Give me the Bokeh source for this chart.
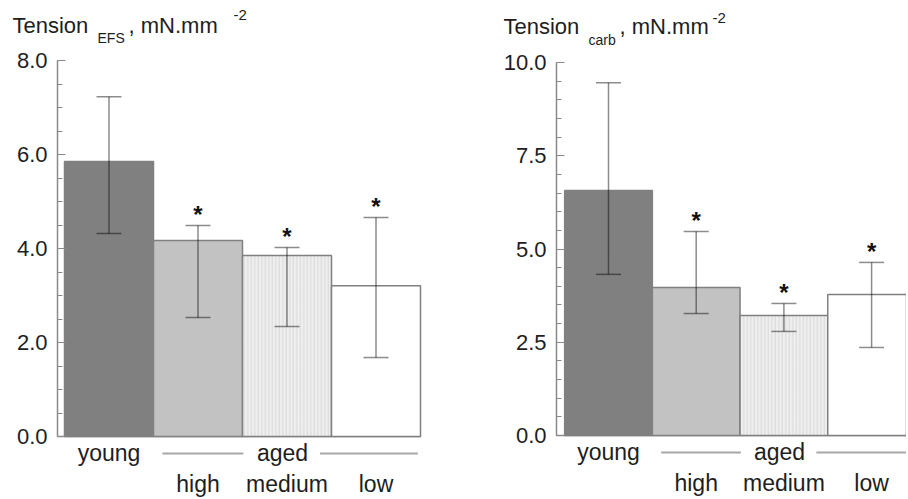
from bokeh.plotting import figure
from bokeh.layouts import row
from bokeh.models import Range1d, SingleIntervalTicker, PrintfTickFormatter, ColumnDataSource
from bokeh.core.properties import value
from bokeh.embed import file_html
from bokeh.resources import INLINE

# ---------------- data ----------------
groups = ["young", "high", "medium", "low"]
group_top = "aged"
efs_mean = [5.85, 4.17, 3.85, 3.21]
efs_upper = [7.23, 4.49, 4.02, 4.66]
efs_lower = [4.32, 2.53, 2.34, 1.68]
carb_mean = [6.57, 3.97, 3.22, 3.78]
carb_upper = [9.46, 5.47, 3.54, 4.64]
carb_lower = [4.32, 3.27, 2.79, 2.36]
significant = [False, True, True, True]
efs_ticks = dict(interval=2.0, top=8.0, minor=4)
carb_ticks = dict(interval=2.5, top=10.0, minor=5)

# ---------------- styles ----------------
bar_colors = ["#808080", "#c2c2c2", "#efefef", "#ffffff"]
hatches = [" ", " ", "|", " "]
FONT = "Liberation Sans"
TXT = "#1e1e1e"
AX = "#8a8a8a"
H = 497
SHIFT = 8  # text baseline correction (px)


def make_panel(fig_left, width, axis_px, y0, uy, c1, ux, mean, upper, lower, ticks, title_parts):
    # page-pixel layout -> data ranges (frame covers whole figure)
    xs = 1 - (c1 - fig_left) / ux
    xe = xs + width / ux
    ys = -(H - y0) / uy
    ye = y0 / uy

    def px2x(px):
        return xs + (px - fig_left) / ux

    def px2y(py):
        return (y0 - py) / uy

    p = figure(width=width, height=H, output_backend="svg", toolbar_location=None,
               x_range=Range1d(xs, xe), y_range=Range1d(ys, ye),
               x_axis_location=None, min_border_left=0,
               min_border_right=0, min_border_top=0, min_border_bottom=0)
    p.outline_line_color = None
    p.grid.visible = False
    p.background_fill_color = "white"
    p.border_fill_color = "white"

    axis_x = px2x(axis_px)
    n = len(groups)
    xpos = list(range(1, n + 1))
    src = ColumnDataSource(dict(x=xpos, top=mean, up=upper, lo=lower,
                                color=bar_colors, hatch=hatches))

    # baseline
    p.segment(x0=[axis_x], y0=[0], x1=[n + 0.5], y1=[0], line_color=AX, line_width=1.5)

    p.vbar(x="x", top="top", bottom=0, width=1.0, source=src, fill_color="color",
           line_color="#808080", line_width=1.5, hatch_pattern="hatch",
           hatch_color="#d2d2d2", hatch_scale=3.5, hatch_weight=0.8)

    # error bars
    p.segment(x0="x", y0="lo", x1="x", y1="up", source=src, line_color="black",
              line_alpha=0.45, line_width=1.5)
    p.scatter(x="x", y="up", source=src, marker="dash", size=25, line_color="black",
              line_alpha=0.45, line_width=1.5)
    p.scatter(x="x", y="lo", source=src, marker="dash", size=25, line_color="black",
              line_alpha=0.45, line_width=1.5)

    # significance stars
    sx = [x for x, s in zip(xpos, significant) if s]
    sy = [u for u, s in zip(upper, significant) if s]
    p.text(x=sx, y=sy, text=["*"] * len(sx), text_font=value(FONT), text_font_style="bold",
           text_font_size="24px", text_align="center", text_baseline="alphabetic",
           text_color="#111111", y_offset=-11)

    # category labels
    p.text(x=[1], y=[0], text=[groups[0]], text_font=value(FONT), text_font_size="23px",
           text_align="center", text_baseline="alphabetic", text_color=TXT, y_offset=24 - SHIFT)
    p.text(x=xpos[1:], y=[0] * (n - 1), text=groups[1:], text_font=value(FONT),
           text_font_size="23px", text_align="center", text_baseline="alphabetic",
           text_color=TXT, y_offset=55 - SHIFT)
    aged_c = sum(xpos[1:]) / (n - 1) - 0.05
    p.text(x=[aged_c], y=[0], text=[group_top], text_font=value(FONT), text_font_size="23px",
           text_align="center", text_baseline="alphabetic", text_color=TXT, y_offset=24 - SHIFT)
    ly = -17 / uy
    p.segment(x0=[xpos[1] - 0.4, aged_c + 0.42], y0=[ly, ly],
              x1=[aged_c - 0.44, xpos[-1] + 0.47], y1=[ly, ly],
              line_color="#a8a8a8", line_width=2)

    # y axis at a fixed location inside the frame
    ax = p.yaxis[0]
    ax.fixed_location = axis_x
    ax.ticker = SingleIntervalTicker(interval=ticks["interval"], num_minor_ticks=ticks["minor"])
    ax.formatter = PrintfTickFormatter(format="%.1f")
    ax.bounds = (0, ticks["top"])
    ax.axis_line_color = AX
    ax.axis_line_width = 1.5
    ax.major_tick_line_color = AX
    ax.minor_tick_line_color = AX
    ax.major_tick_in = 8
    ax.major_tick_out = 0
    ax.minor_tick_in = 5
    ax.minor_tick_out = 0
    ax.major_label_standoff = 10
    ax.major_label_text_font = FONT
    ax.major_label_text_font_size = "22px"
    ax.major_label_text_color = TXT

    # title pieces (text with subscript / superscript)
    for txt, px, py, size in title_parts:
        p.text(x=[px2x(px)], y=[px2y(py - SHIFT)], text=[txt], text_font=value(FONT),
               text_font_size=size, text_color=TXT, text_baseline="alphabetic",
               text_align="left")
    return p


p1 = make_panel(0, 454, 57, 436, 47.0, 108.5, 89.0, efs_mean, efs_upper, efs_lower, efs_ticks,
                [("Tension", 12, 33, "22px"), ("EFS", 97, 45, "14px"),
                 (", mN.mm", 128, 33, "22px"), ("-2", 233, 22, "15px")])
p2 = make_panel(454, 452, 556, 435, 37.3, 608, 87.7, carb_mean, carb_upper, carb_lower, carb_ticks,
                [("Tension", 503, 34, "22px"), ("carb", 588, 47, "14px"),
                 (", mN.mm", 619, 34, "22px"), ("-2", 712, 25, "15px")])

layout = row(p1, p2)
open("out.html", "w").write(file_html(layout, INLINE))
